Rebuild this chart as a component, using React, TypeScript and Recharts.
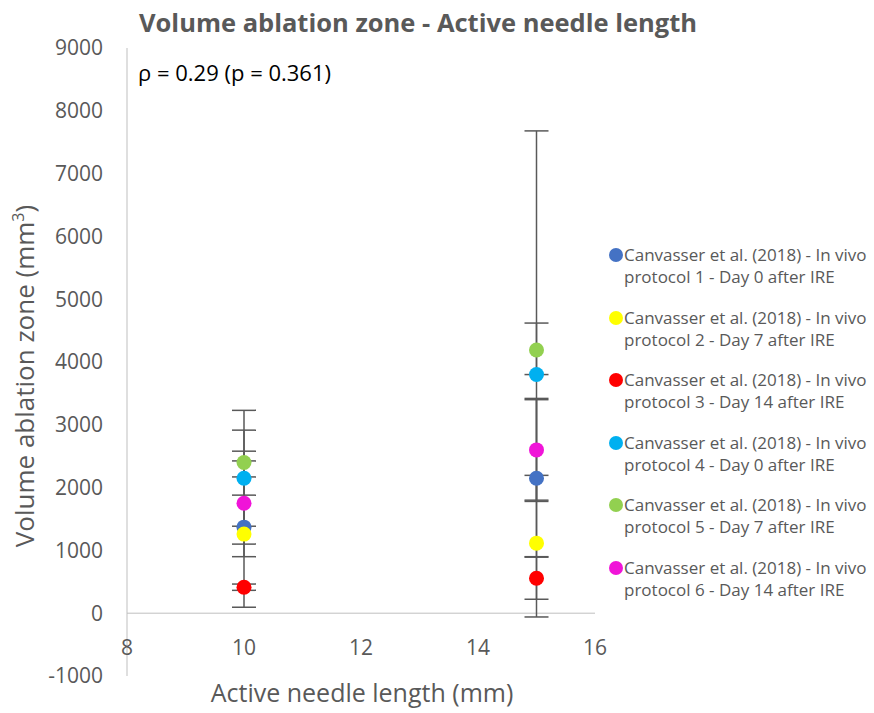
import React from 'react';
import { ScatterChart, Scatter, XAxis, YAxis, ErrorBar, ReferenceLine } from 'recharts';

const FONT = '"Open Sans", sans-serif';
const GREY = '#595959';

const xValues = [10, 15];
const seriesNames = [
  ['Canvasser et al. (2018) - In vivo', 'protocol 1 - Day 0 after IRE'],
  ['Canvasser et al. (2018) - In vivo', 'protocol 2 - Day 7 after IRE'],
  ['Canvasser et al. (2018) - In vivo', 'protocol 3 - Day 14 after IRE'],
  ['Canvasser et al. (2018) - In vivo', 'protocol 4 - Day 0 after IRE'],
  ['Canvasser et al. (2018) - In vivo', 'protocol 5 - Day 7 after IRE'],
  ['Canvasser et al. (2018) - In vivo', 'protocol 6 - Day 14 after IRE'],
];
const colors = ['#4472C4', '#FFFF00', '#FF0000', '#00B0F0', '#92D050', '#F014D8'];

// volume (mm3) at needle length 10 and 15
const vol10 = [1370, 1260, 414, 2150, 2400, 1750];
const vol15 = [2150, 1115, 557, 3800, 4190, 2600];
// error bars [minus, plus]
const errLow10 = [470, 1165, 50, 765, 230, 650];
const errHigh10 = [510, 1165, 50, 765, 830, 830];
const errLow15 = [1250, 1175, 335, 2000, 390, 820];
const errHigh15 = [1250, 1080, 335, 820, 3490, 820];

const yTicks = [-1000, 0, 1000, 2000, 3000, 4000, 5000, 6000, 7000, 8000, 9000];
const xTicks = [8, 10, 12, 14, 16];

const series = seriesNames.map((name, i) => ({
  name,
  color: colors[i],
  data: [
    { x: xValues[0], y: vol10[i], err: [errLow10[i], errHigh10[i]] },
    { x: xValues[1], y: vol15[i], err: [errLow15[i], errHigh15[i]] },
  ],
}));

const XTick = (props: any) => {
  const { x, y, payload } = props;
  return (
    <text x={x} y={y - 37} textAnchor="middle" dominantBaseline="central" fill={GREY} fontSize={21} fontFamily={FONT}>
      {payload.value}
    </text>
  );
};

const Dot = (color: string) => (p: any) => <circle cx={p.cx} cy={p.cy} r={7.5} fill={color} />;

const LegendBox = () => (
  <div style={{ position: 'absolute', left: 609, top: 244, width: 265, fontFamily: FONT, fontSize: 17, color: GREY, lineHeight: '22px', whiteSpace: 'nowrap' }}>
    {series.map((s, i) => (
      <div key={i} style={{ position: 'relative', height: 62.6, paddingLeft: 15 }}>
        <span style={{ position: 'absolute', left: 0, top: 4, width: 14, height: 14, borderRadius: 7, background: s.color }} />
        <div>{s.name[0]}</div>
        <div>{s.name[1]}</div>
      </div>
    ))}
  </div>
);

export default function App() {
  return (
    <div style={{ position: 'relative', width: 874, height: 713, background: '#fff' }}>
      <style>{'body{margin:0}'}</style>
      <ScatterChart width={874} height={713} margin={{ top: 48, right: 279, bottom: 7, left: 0 }}>
        <XAxis type="number" dataKey="x" domain={[8, 16]} ticks={xTicks} interval={0} axisLine={false} tickLine={false} height={30} tick={<XTick />} />
        <YAxis
          type="number" dataKey="y" domain={[-1000, 9000]} ticks={yTicks} interval={0} width={127}
          axisLine={{ stroke: '#BFBFBF' }} tickLine={false} tickSize={0} tickMargin={24}
          tick={{ fill: GREY, fontSize: 21, fontFamily: FONT }}
        />
        <ReferenceLine y={0} stroke="#BFBFBF" strokeWidth={1} />
        {series.map((s, i) => (
          <Scatter key={'e' + i} data={s.data} shape={() => <g />} isAnimationActive={false} legendType="none">
            <ErrorBar dataKey="err" direction="y" width={12} stroke="#595959" strokeWidth={1.5} isAnimationActive={false} />
          </Scatter>
        ))}
        {series.map((s, i) => (
          <Scatter key={'s' + i} data={s.data} shape={Dot(s.color)} isAnimationActive={false} />
        ))}
      </ScatterChart>
      <LegendBox />
      <div style={{ position: 'absolute', left: 0, width: 836, top: 6, textAlign: 'center', fontFamily: FONT, fontWeight: 700, fontSize: 25.5, color: GREY, lineHeight: '32px', whiteSpace: 'nowrap' }}>
        Volume ablation zone - Active needle length
      </div>
      <div style={{ position: 'absolute', left: 138, top: 58, fontFamily: FONT, fontSize: 22, color: '#000', lineHeight: '28px', whiteSpace: 'nowrap' }}>
        ρ = 0.29 (p = 0.361)
      </div>
      <div style={{ position: 'absolute', left: 362, top: 692, transform: 'translate(-50%, -50%)', whiteSpace: 'nowrap', fontFamily: FONT, fontSize: 25, color: GREY }}>
        Active needle length (mm)
      </div>
      <div style={{ position: 'absolute', left: 24, top: 376, transform: 'translate(-50%, -50%) rotate(-90deg)', whiteSpace: 'nowrap', fontFamily: FONT, fontSize: 26, color: GREY }}>
        Volume ablation zone (mm<sup style={{ fontSize: 16 }}>3</sup>)
      </div>
    </div>
  );
}
